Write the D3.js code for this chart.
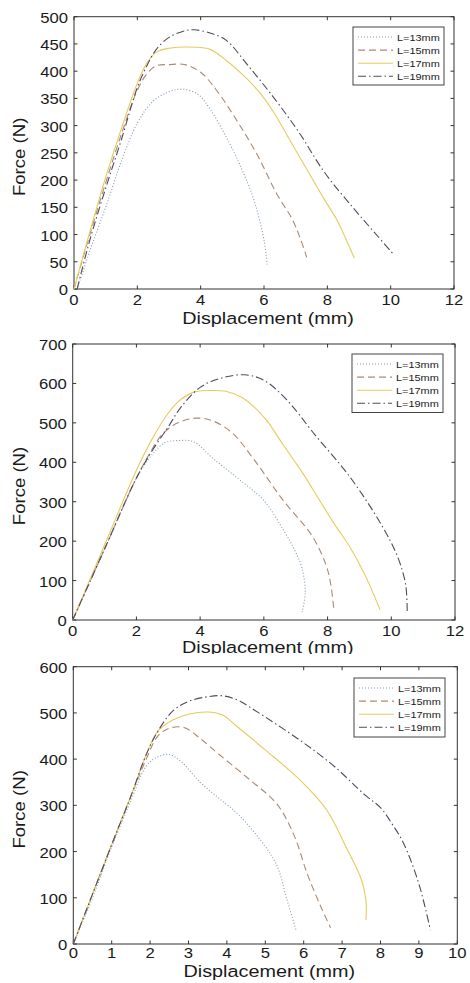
<!DOCTYPE html>
<html>
<head>
<meta charset="utf-8">
<title>Force vs displacement</title>
<style>
  body {margin: 0; background: white;}
  text {font-family: "Liberation Sans", Arial, sans-serif; fill: #1a1a1a;}
</style>
</head>
<body>
<svg id="chart" width="470" height="983"></svg>
<script src="https://d3js.org/d3.v7.min.js"></script>
<script>
// legend names, same in all three panels
var names = ["L=13mm", "L=15mm", "L=17mm", "L=19mm"];

// tick labels
var xTicks12 = [0, 2, 4, 6, 8, 10, 12];
var xTicks10 = [0, 1, 2, 3, 4, 5, 6, 7, 8, 9, 10];
var yTicks1 = [0, 50, 100, 150, 200, 250, 300, 350, 400, 450, 500];
var yTicks2 = [0, 100, 200, 300, 400, 500, 600, 700];
var yTicks3 = [0, 100, 200, 300, 400, 500, 600];

// panel 1 curves [displacement mm, force N]
var p1_L13 = [[0.1,0],[0.5,70],[1.0,150],[1.5,235],[2.0,305],[2.5,345],[3.0,362],[3.4,367],[3.9,358],[4.3,330],[4.8,280],[5.3,220],[5.7,160],[6.0,90],[6.1,45]];
var p1_L15 = [[0,0],[0.5,100],[1.0,195],[1.5,285],[2.0,365],[2.3,395],[2.6,410],[3.0,412],[3.5,412],[4.0,398],[4.5,365],[5.2,304],[5.8,245],[6.4,175],[6.9,127],[7.15,92],[7.35,58]];
var p1_L17 = [[0,0],[0.5,105],[1.0,205],[1.5,295],[2.0,378],[2.3,415],[2.6,435],[3.0,442],[3.8,444],[4.3,440],[4.8,420],[5.3,395],[5.8,365],[6.3,325],[6.8,275],[7.3,225],[7.9,165],[8.3,127],[8.6,90],[8.85,57]];
var p1_L19 = [[0.1,0],[0.5,90],[1.0,185],[1.5,275],[2.0,370],[2.3,410],[2.6,440],[3.0,462],[3.5,474],[3.8,476],[4.3,470],[4.8,457],[5.5,410],[6.3,352],[7.1,288],[7.9,215],[8.8,150],[9.5,103],[10.1,63]];

// panel 2 curves
var p2_L13 = [[0,0],[1.0,180],[2.0,360],[2.5,420],[2.9,450],[3.3,455],[3.8,452],[4.4,410],[5.2,358],[6.0,303],[6.6,230],[6.95,180],[7.2,130],[7.3,70],[7.2,20]];
var p2_L15 = [[0,0],[1.0,180],[2.0,360],[2.4,420],[2.8,470],[3.3,500],[3.9,512],[4.4,505],[5.0,475],[5.7,406],[6.6,304],[7.5,215],[7.95,140],[8.1,90],[8.2,25]];
var p2_L17 = [[0,0],[1.0,190],[2.0,380],[2.5,460],[3.0,525],[3.4,560],[3.8,578],[4.3,582],[4.8,580],[5.3,565],[5.7,540],[6.1,505],[6.6,445],[7.2,375],[7.7,310],[8.2,245],[8.7,185],[9.2,110],[9.65,25]];
var p2_L19 = [[0,0],[1.0,180],[2.0,360],[2.5,430],[3.0,490],[3.4,540],[4.0,590],[4.6,612],[5.4,622],[6.0,608],[6.7,560],[7.6,470],[8.7,363],[9.7,240],[10.2,160],[10.45,90],[10.5,20]];

// panel 3 curves
var p3_L13 = [[0,0],[0.5,100],[1.0,210],[1.5,310],[1.9,385],[2.2,405],[2.5,410],[2.8,395],[3.3,350],[3.8,315],[4.3,280],[4.9,222],[5.3,170],[5.55,100],[5.8,30]];
var p3_L15 = [[0,0],[1.0,215],[1.5,320],[1.9,400],[2.2,450],[2.5,467],[2.9,468],[3.3,445],[3.8,410],[4.6,355],[5.3,303],[5.75,235],[6.1,150],[6.45,80],[6.7,35]];
var p3_L17 = [[0,0],[1.0,215],[1.5,320],[1.9,410],[2.2,460],[2.6,485],[3.0,497],[3.5,502],[3.9,495],[4.2,475],[5.0,420],[5.9,355],[6.6,290],[7.1,210],[7.5,140],[7.62,95],[7.62,52]];
var p3_L19 = [[0,0],[1.0,215],[1.5,320],[1.9,410],[2.2,460],[2.6,505],[3.0,525],[3.5,535],[3.9,537],[4.3,527],[4.7,507],[5.9,441],[6.8,384],[7.6,322],[8.0,295],[8.3,260],[8.6,218],[9.0,130],[9.3,30]];

var styles = [
  {color: "#7f9cb8", dash: "1,2"},
  {color: "#a98a72", dash: "7,4"},
  {color: "#e3cc5c", dash: null},
  {color: "#54485f", dash: "8,3,1.5,3"}
];

var panels = [
  {l: 74, r: 454, t: 16.7, b: 289, xmax: 12, ymax: 500, xt: xTicks12, yt: yTicks1,
   series: [p1_L13, p1_L15, p1_L17, p1_L19], leg: [353, 27, 91, 58], tickY: 16, labY: 35, clip: null},
  {l: 72.7, r: 455, t: 344, b: 620, xmax: 12, ymax: 700, xt: xTicks12, yt: yTicks2,
   series: [p2_L13, p2_L15, p2_L17, p2_L19], leg: [352, 354, 91, 58.5], tickY: 16, labY: 33, clip: 654},
  {l: 73.3, r: 457.3, t: 666.7, b: 944, xmax: 10, ymax: 600, xt: xTicks10, yt: yTicks3,
   series: [p3_L13, p3_L15, p3_L17, p3_L19], leg: [354, 678, 91, 59], tickY: 14, labY: 33, clip: null}
];

var svg = d3.select("#chart");

// text that looks a bit wide, like the source image
function wideText(g, x, y, str, size, anchor, sx, rot) {
  var tr = "translate(" + x + "," + y + ")" + (rot ? " rotate(" + rot + ")" : "") + " scale(" + sx + ",1)";
  return g.append("text")
    .attr("transform", tr)
    .attr("font-size", size)
    .attr("text-anchor", anchor)
    .text(str);
}

panels.forEach(function(p, pi) {
  var g = svg.append("g");
  var x = d3.scaleLinear().domain([0, p.xmax]).range([p.l, p.r]);
  var y = d3.scaleLinear().domain([0, p.ymax]).range([p.b, p.t]);

  // box
  g.append("rect")
    .attr("x", p.l).attr("y", p.t)
    .attr("width", p.r - p.l).attr("height", p.b - p.t)
    .attr("fill", "none").attr("stroke", "#333").attr("stroke-width", 1);

  // inward ticks on all sides
  p.xt.forEach(function(v) {
    g.append("line").attr("x1", x(v)).attr("x2", x(v)).attr("y1", p.b).attr("y2", p.b - 3.5).attr("stroke", "#333");
    g.append("line").attr("x1", x(v)).attr("x2", x(v)).attr("y1", p.t).attr("y2", p.t + 3.5).attr("stroke", "#333");
    wideText(g, x(v), p.b + p.tickY, v, 14.5, "middle", 1.15);
  });
  p.yt.forEach(function(v) {
    g.append("line").attr("x1", p.l).attr("x2", p.l + 3.5).attr("y1", y(v)).attr("y2", y(v)).attr("stroke", "#333");
    g.append("line").attr("x1", p.r).attr("x2", p.r - 3.5).attr("y1", y(v)).attr("y2", y(v)).attr("stroke", "#333");
    wideText(g, p.l - 6, y(v) + 6, v, 14.5, "end", 1.15);
  });

  // curves
  var line = d3.line()
    .x(function(d) { return x(d[0]); })
    .y(function(d) { return y(d[1]); })
    .curve(d3.curveCatmullRom.alpha(0.5));

  p.series.forEach(function(s, i) {
    g.append("path")
      .datum(s)
      .attr("d", line)
      .attr("fill", "none")
      .attr("stroke", styles[i].color)
      .attr("stroke-width", 1.1)
      .attr("stroke-dasharray", styles[i].dash);
  });

  // legend
  var lx = p.leg[0], ly = p.leg[1];
  g.append("rect")
    .attr("x", lx).attr("y", ly).attr("width", p.leg[2]).attr("height", p.leg[3])
    .attr("fill", "white").attr("stroke", "#444").attr("stroke-width", 1);
  names.forEach(function(n, i) {
    var yy = ly + 10 + i * 13.1;
    g.append("line")
      .attr("x1", lx + 5).attr("x2", lx + 40)
      .attr("y1", yy).attr("y2", yy)
      .attr("stroke", styles[i].color).attr("stroke-width", 1.1)
      .attr("stroke-dasharray", styles[i].dash);
    wideText(g, lx + 44, yy + 3.5, n, 9.5, "start", 1.15);
  });

  // axis labels
  var labG = g.append("g");
  if (p.clip) {
    svg.append("clipPath").attr("id", "clip" + pi)
      .append("rect").attr("x", 0).attr("y", 0).attr("width", 470).attr("height", p.clip);
    labG.attr("clip-path", "url(#clip" + pi + ")");
  }
  wideText(labG, (p.l + p.r) / 2 + 4, p.b + p.labY, "Displacement (mm)", 16.5, "middle", 1.2);
  wideText(g, 25, (p.t + p.b) / 2 + 4, "Force (N)", 16.3, "middle", 1.14, -90);
});
</script>
</body>
</html>
